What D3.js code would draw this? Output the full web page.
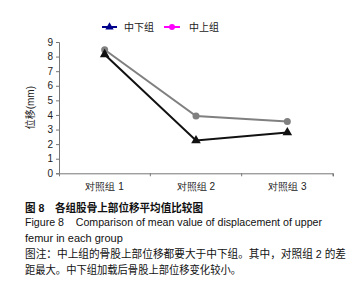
<!DOCTYPE html>
<html><head><meta charset="utf-8">
<script src="https://cdn.jsdelivr.net/npm/d3@7"></script>
<style>
body{margin:0;background:#fff;}
svg{display:block;font-family:"Liberation Sans",Arial,"Noto Sans CJK SC",sans-serif;}
</style></head><body>
<svg id="c" width="357" height="291"></svg>
<script>
const categories = ["对照组 1", "对照组 2", "对照组 3"];
const seriesNames = ["中下组", "中上组"];
const lowerValues = [8.15, 2.25, 2.8];
const upperValues = [8.47, 3.93, 3.55];
const yTicks = [0,1,2,3,4,5,6,7,8,9];
const yLabel = "位移(mm)";
const captionLines = [
  "图 8　各组股骨上部位移平均值比较图",
  "Figure 8    Comparison of mean value of displacement of upper",
  "femur in each group",
  "图注：中上组的骨股上部位移都要大于中下组。其中，对照组 2 的差",
  "距最大。中下组加载后骨股上部位移变化较小。"
];

(function(){
const svg = d3.select("#c");
const mLeft = 59, mRight = 333, mTop = 42, mBottom = 173.3;
const x = d3.scaleBand().domain(categories).range([mLeft, mRight]);
const y = d3.scaleLinear().domain([0, 9]).range([mBottom, mTop]);

const yAxis = svg.append("g").attr("transform", `translate(${mLeft},0)`)
  .call(d3.axisLeft(y).tickValues(yTicks).tickSize(3).tickPadding(3));
const xAxis = svg.append("g").attr("transform", `translate(0,${mBottom})`)
  .call(d3.axisBottom(x).tickSize(3).tickPadding(7));
[yAxis, xAxis].forEach(a => {
  a.select(".domain").attr("stroke", "#777");
  a.selectAll(".tick line").attr("stroke", "#777");
  a.selectAll("text").attr("fill", "#222").attr("font-size", 10);
});
xAxis.selectAll(".tick line").remove();
const bounds = [mLeft + x.bandwidth(), mLeft + x.bandwidth()*2, mRight];
xAxis.selectAll(".bt").data(bounds).enter().append("line")
  .attr("x1", d => d).attr("x2", d => d).attr("y1", 0).attr("y2", 3).attr("stroke", "#777");
xAxis.selectAll(".tick text").attr("font-size", 10);

svg.append("text").attr("transform", `translate(34,${(mTop+mBottom)/2}) rotate(-90)`)
  .attr("text-anchor", "middle").attr("font-size", 10).attr("fill", "#222").text(yLabel);

const cx = d => x(d) + x.bandwidth()/2;
const line = d3.line().x((d,i) => cx(categories[i])).y(d => y(d));

svg.append("path").datum(upperValues).attr("d", line).attr("fill","none").attr("stroke","#808080").attr("stroke-width",2);
svg.selectAll(".up").data(upperValues).enter().append("circle")
  .attr("cx",(d,i)=>cx(categories[i])).attr("cy",d=>y(d)).attr("r",3.5).attr("fill","#808080");
svg.append("path").datum(lowerValues).attr("d", line).attr("fill","none").attr("stroke","#111").attr("stroke-width",2);
const tri = d3.symbol().type(d3.symbolTriangle).size(40);
svg.selectAll(".lo").data(lowerValues).enter().append("path")
  .attr("d", tri).attr("transform",(d,i)=>`translate(${cx(categories[i])},${y(d)})`).attr("fill","#111");

const lg = svg.append("g");
lg.append("line").attr("x1",102).attr("x2",117).attr("y1",27).attr("y2",27).attr("stroke","#00008b").attr("stroke-width",2);
lg.append("path").attr("d", d3.symbol().type(d3.symbolTriangle).size(30)).attr("transform","translate(109.5,27)").attr("fill","#00008b");
lg.append("text").attr("x",124).attr("y",31).attr("font-size",10).attr("fill","#222").text(seriesNames[0]);
lg.append("line").attr("x1",164).attr("x2",180).attr("y1",27).attr("y2",27).attr("stroke","#ff00ff").attr("stroke-width",2);
lg.append("circle").attr("cx",172).attr("cy",27).attr("r",3).attr("fill","#ff00ff");
lg.append("text").attr("x",189).attr("y",31).attr("font-size",10).attr("fill","#222").text(seriesNames[1]);

const baselines = [211.5, 226, 242, 258, 274];
const lengths = [178, 297, null, 321, 216];
captionLines.forEach((t,i) => {
  const el = svg.append("text").attr("x", 25).attr("y", baselines[i]).attr("font-size", 11)
    .attr("fill", "#111").attr("font-weight", i===0 ? "bold" : "normal")
    .style("white-space", "pre").text(t);
  if (lengths[i]) el.attr("textLength", lengths[i]).attr("lengthAdjust", "spacingAndGlyphs");
});
})();
</script>
</body></html>
